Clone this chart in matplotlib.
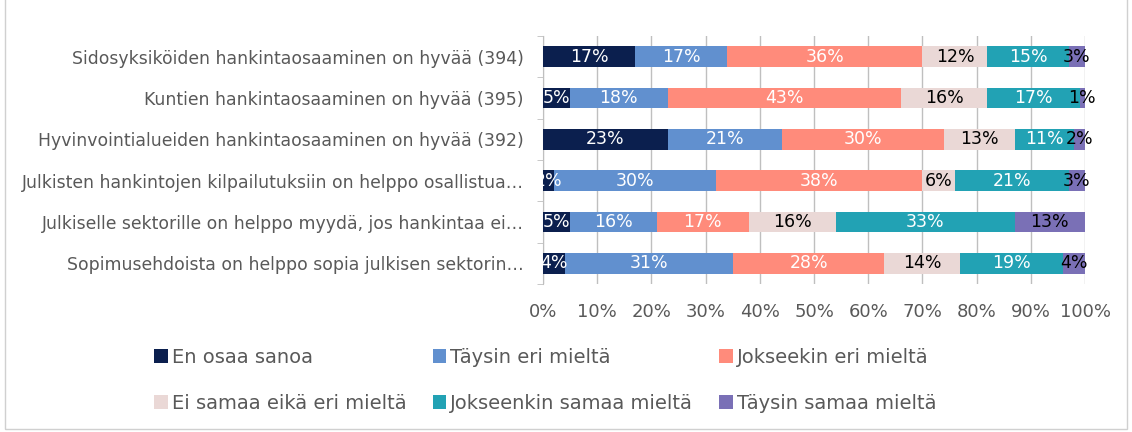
import matplotlib.pyplot as plt
import numpy as np
from matplotlib.patches import Rectangle

# Data (percent of respondents)
statements = [
    "Sidosyksiköiden hankintaosaaminen on hyvää (394)",
    "Kuntien hankintaosaaminen on hyvää (395)",
    "Hyvinvointialueiden hankintaosaaminen on hyvää (392)",
    "Julkisten hankintojen kilpailutuksiin on helppo osallistua…",
    "Julkiselle sektorille on helppo myydä, jos hankintaa ei…",
    "Sopimusehdoista on helppo sopia julkisen sektorin…",
]
answers = [
    "En osaa sanoa",
    "Täysin eri mieltä",
    "Jokseekin eri mieltä",
    "Ei samaa eikä eri mieltä",
    "Jokseenkin samaa mieltä",
    "Täysin samaa mieltä",
]
en_osaa = [17, 5, 23, 2, 5, 4]
taysin_eri = [17, 18, 21, 30, 16, 31]
jokseenkin_eri = [36, 43, 30, 38, 17, 28]
ei_samaa_eika_eri = [12, 16, 13, 6, 16, 14]
jokseenkin_samaa = [15, 17, 11, 21, 33, 19]
taysin_samaa = [3, 1, 2, 3, 13, 4]

series = [en_osaa, taysin_eri, jokseenkin_eri, ei_samaa_eika_eri,
          jokseenkin_samaa, taysin_samaa]
colors = ["#0b1f4e", "#6190cf", "#ff8b7b", "#ead8d6", "#22a2b4", "#7a70b6"]
text_colors = ["white", "white", "white", "black", "white", "black"]

gray = "#595959"
plt.rcParams['font.family'] = ['DejaVu Sans']

fig = plt.figure(figsize=(11.32, 4.32), dpi=100)
ax = fig.add_axes([0.4797, 0.3426, 0.4788, 0.5741])

y = np.arange(len(statements))
left = np.zeros(len(statements))
for vals, col, tcol, name in zip(series, colors, text_colors, answers):
    w = np.array(vals) / 100
    bars = ax.barh(y, w, left=left, height=0.5, color=col, label=name, zorder=3)
    for b, v in zip(bars, vals):
        ax.text(b.get_x() + b.get_width() / 2, b.get_y() + b.get_height() / 2,
                f"{v}%", ha="center", va="center", color=tcol, fontsize=12.5,
                zorder=4)
    left += w

ax.set_ylim(len(statements) - 0.5, -0.5)
ax.set_xlim(0, 1)
ax.set_yticks(y)
ax.set_yticklabels(statements, fontsize=12.4, color=gray)
ax.set_yticks(np.arange(-0.5, len(statements), 1), minor=True)
ax.tick_params(axis="y", which="major", length=0, pad=14)
ax.tick_params(axis="y", which="minor", length=4, color="#bfbfbf")

ax.set_xticks(np.arange(0, 1.01, 0.1))
ax.set_xticklabels([f"{int(round(t * 100))}%" for t in np.arange(0, 1.01, 0.1)],
                   fontsize=13, color=gray)
ax.tick_params(axis="x", length=0, pad=14)
ax.grid(axis="x", color="#bfbfbf", linewidth=1, zorder=0)

for s in ["top", "right", "bottom"]:
    ax.spines[s].set_visible(False)
ax.spines["left"].set_color("#bfbfbf")

handles, labels = ax.get_legend_handles_labels()
order = [0, 3, 1, 4, 2, 5]
fig.legend([handles[i] for i in order], [labels[i] for i in order],
           loc="lower left", bbox_to_anchor=(0.121, 0.004), ncol=3, frameon=False,
           fontsize=14, labelcolor=gray, handlelength=0.7, handleheight=0.7,
           handletextpad=0.2, columnspacing=1.35, labelspacing=1.4)

fig.patches.append(Rectangle((0.004, 0.006), 0.992, 1.2, transform=fig.transFigure,
                             fill=False, edgecolor="#d0d0d0", linewidth=1))

plt.savefig("out.png")
plt.close()
